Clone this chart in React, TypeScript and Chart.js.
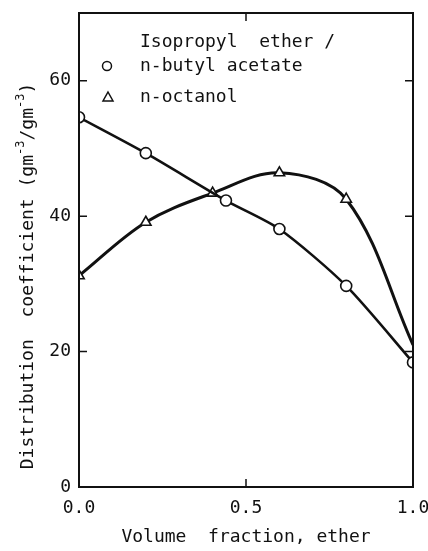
import React, { useEffect, useRef } from "react";
import { Chart, registerables } from "chart.js";

Chart.register(...registerables);

const FONT = "'DejaVu Sans Mono', 'Liberation Mono', monospace";

const acetateX = [0.0, 0.2, 0.44, 0.6, 0.8, 1.0];
const acetateY = [54.6, 49.3, 42.3, 38.1, 29.7, 18.4];
const octanolX = [0.0, 0.2, 0.4, 0.6, 0.8, 1.0];
const octanolY = [31.2, 39.1, 43.4, 46.4, 42.5, 21.0];
const octanolRadius = [6, 6, 6, 6, 6, 0];

const xTicks = [0, 0.5, 1.0];
const yTicks = [0, 20, 40, 60];
const legendTitle = "Isopropyl  ether /";
const seriesNames = ["n-butyl acetate", "n-octanol"];
const xTitle = "Volume  fraction, ether";
const yTitleParts = ["Distribution  coefficient (gm", "-3", "/gm", "-3", ")"];

const framePlugin = {
  id: "frame",
  afterDraw(chart: any) {
    const { ctx, chartArea } = chart;
    const xs = chart.scales.x;
    const ys = chart.scales.y;
    const { left, right, top, bottom } = chartArea;
    ctx.save();
    ctx.strokeStyle = "#111";
    ctx.lineWidth = 2;
    ctx.strokeRect(left, top, right - left, bottom - top);
    ctx.lineWidth = 1.5;
    const tl = 8;
    yTicks.forEach((v) => {
      if (v === 0) return;
      const y = ys.getPixelForValue(v);
      ctx.beginPath();
      ctx.moveTo(left, y);
      ctx.lineTo(left + tl, y);
      ctx.moveTo(right, y);
      ctx.lineTo(right - tl, y);
      ctx.stroke();
    });
    const xm = xs.getPixelForValue(0.5);
    ctx.beginPath();
    ctx.moveTo(xm, top);
    ctx.lineTo(xm, top + tl);
    ctx.moveTo(xm, bottom);
    ctx.lineTo(xm, bottom - tl);
    ctx.stroke();

    // legend
    ctx.fillStyle = "#111";
    ctx.font = `18px ${FONT}`;
    ctx.textBaseline = "middle";
    ctx.textAlign = "left";
    ctx.fillText(legendTitle, 140, 42);
    ctx.fillText(seriesNames[0], 140, 66);
    ctx.fillText(seriesNames[1], 140, 97);
    ctx.lineWidth = 1.5;
    ctx.beginPath();
    ctx.arc(107, 66, 4.5, 0, Math.PI * 2);
    ctx.stroke();
    ctx.beginPath();
    ctx.moveTo(108, 92);
    ctx.lineTo(113, 101);
    ctx.lineTo(103, 101);
    ctx.closePath();
    ctx.stroke();

    // x title
    ctx.textAlign = "center";
    ctx.fillText(xTitle, 246, 537);

    // y title with superscripts
    ctx.save();
    ctx.translate(28, 276);
    ctx.rotate(-Math.PI / 2);
    const big = `18px ${FONT}`;
    const small = `12px ${FONT}`;
    let total = 0;
    yTitleParts.forEach((p, i) => {
      ctx.font = i % 2 === 1 ? small : big;
      total += ctx.measureText(p).width;
    });
    let x = -total / 2;
    ctx.textAlign = "left";
    yTitleParts.forEach((p, i) => {
      const sup = i % 2 === 1;
      ctx.font = sup ? small : big;
      ctx.fillText(p, x, sup ? -7 : 0);
      x += ctx.measureText(p).width;
    });
    ctx.restore();
    ctx.restore();
  },
};

export default function App() {
  const ref = useRef<HTMLCanvasElement>(null);
  useEffect(() => {
    if (!ref.current) return;
    const chart = new Chart(ref.current, {
      type: "line",
      data: {
        datasets: [
          {
            label: seriesNames[0],
            data: acetateX.map((x, i) => ({ x, y: acetateY[i] })),
            borderColor: "#111",
            borderWidth: 2.6,
            tension: 0.25,
            pointStyle: "circle",
            pointRadius: 5.5,
            pointBorderWidth: 1.6,
            pointBackgroundColor: "#fff",
            pointBorderColor: "#111",
          },
          {
            label: seriesNames[1],
            data: octanolX.map((x, i) => ({ x, y: octanolY[i] })),
            borderColor: "#111",
            borderWidth: 3,
            tension: 0.35,
            pointStyle: "triangle",
            pointRadius: octanolRadius,
            pointBorderWidth: 1.6,
            pointBackgroundColor: "#fff",
            pointBorderColor: "#111",
          },
        ],
      },
      plugins: [framePlugin],
      options: {
        animation: false,
        responsive: false,
        devicePixelRatio: 1,
        layout: { padding: { top: 13, right: 15, left: 0, bottom: 0 } },
        plugins: { legend: { display: false }, tooltip: { enabled: false } },
        scales: {
          x: {
            type: "linear",
            min: 0,
            max: 1,
            grid: { display: false },
            border: { display: false },
            afterBuildTicks: (s: any) => {
              s.ticks = xTicks.map((v) => ({ value: v }));
            },
            afterFit: (s: any) => {
              s.height = 64;
              s.paddingLeft = 0;
              s.paddingRight = 0;
            },
            ticks: {
              font: { family: FONT, size: 18 },
              color: "#111",
              padding: 3,
              maxRotation: 0,
              callback: (v: any) => Number(v).toFixed(1),
            },
          },
          y: {
            min: 0,
            max: 70,
            grid: { display: false, drawTicks: false },
            border: { display: false },
            afterBuildTicks: (s: any) => {
              s.ticks = yTicks.map((v) => ({ value: v }));
            },
            afterFit: (s: any) => {
              s.width = 79;
              s.paddingTop = 0;
              s.paddingBottom = 0;
            },
            ticks: {
              font: { family: FONT, size: 18 },
              color: "#111",
              padding: 8,
            },
          },
        },
      },
    });
    return () => chart.destroy();
  }, []);
  return (
    <div style={{ position: "fixed", left: 0, top: 0, width: 428, height: 551, background: "#fff" }}>
      <canvas ref={ref} width={428} height={551} style={{ display: "block" }} />
    </div>
  );
}
